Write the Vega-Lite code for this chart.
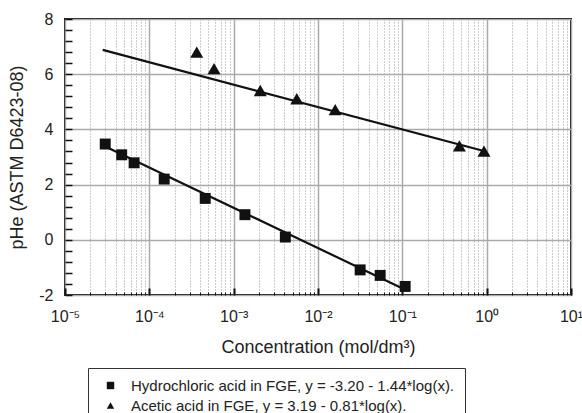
{
  "$schema": "https://vega.github.io/schema/vega-lite/v6.json",
  "width": 506,
  "height": 276,
  "autosize": {"type": "none"},
  "padding": {"left": 65, "top": 19, "right": 11, "bottom": 118},
  "background": "white",
  "config": {
    "view": {"stroke": "#111", "strokeWidth": 2},
    "font": "Liberation Sans",
    "axis": {"domain": false, "labelFont": "Liberation Sans", "titleFont": "Liberation Sans", "labelColor": "#222", "titleColor": "#222", "titleFontWeight": "normal"},
    "legend": {
      "orient": "none",
      "legendX": 23,
      "legendY": 349,
      "strokeColor": "#333",
      "padding": 10,
      "symbolOffset": 5,
      "labelOffset": 13,
      "labelFontSize": 15,
      "labelFont": "Liberation Sans",
      "labelColor": "#222",
      "labelLimit": 600,
      "symbolSize": 55,
      "symbolFillColor": "#111",
      "symbolStrokeColor": "#111",
      "rowPadding": 4
    }
  },
  "datasets": {
    "points": [
      {"series": "Hydrochloric acid in FGE, y = -3.20 - 1.44*log(x).", "acid": "HCl", "conc": 0.00003, "phe": 3.47},
      {"series": "Hydrochloric acid in FGE, y = -3.20 - 1.44*log(x).", "acid": "HCl", "conc": 0.000047, "phe": 3.08},
      {"series": "Hydrochloric acid in FGE, y = -3.20 - 1.44*log(x).", "acid": "HCl", "conc": 0.000066, "phe": 2.79},
      {"series": "Hydrochloric acid in FGE, y = -3.20 - 1.44*log(x).", "acid": "HCl", "conc": 0.00015, "phe": 2.2},
      {"series": "Hydrochloric acid in FGE, y = -3.20 - 1.44*log(x).", "acid": "HCl", "conc": 0.00046, "phe": 1.5},
      {"series": "Hydrochloric acid in FGE, y = -3.20 - 1.44*log(x).", "acid": "HCl", "conc": 0.00136, "phe": 0.91},
      {"series": "Hydrochloric acid in FGE, y = -3.20 - 1.44*log(x).", "acid": "HCl", "conc": 0.0041, "phe": 0.1},
      {"series": "Hydrochloric acid in FGE, y = -3.20 - 1.44*log(x).", "acid": "HCl", "conc": 0.0316, "phe": -1.09},
      {"series": "Hydrochloric acid in FGE, y = -3.20 - 1.44*log(x).", "acid": "HCl", "conc": 0.0546, "phe": -1.29},
      {"series": "Hydrochloric acid in FGE, y = -3.20 - 1.44*log(x).", "acid": "HCl", "conc": 0.108, "phe": -1.69},
      {"series": "Acetic acid in FGE, y = 3.19 - 0.81*log(x).", "acid": "Acetic", "conc": 0.000365, "phe": 6.8},
      {"series": "Acetic acid in FGE, y = 3.19 - 0.81*log(x).", "acid": "Acetic", "conc": 0.000585, "phe": 6.2},
      {"series": "Acetic acid in FGE, y = 3.19 - 0.81*log(x).", "acid": "Acetic", "conc": 0.00207, "phe": 5.41},
      {"series": "Acetic acid in FGE, y = 3.19 - 0.81*log(x).", "acid": "Acetic", "conc": 0.0056, "phe": 5.11},
      {"series": "Acetic acid in FGE, y = 3.19 - 0.81*log(x).", "acid": "Acetic", "conc": 0.016, "phe": 4.72},
      {"series": "Acetic acid in FGE, y = 3.19 - 0.81*log(x).", "acid": "Acetic", "conc": 0.475, "phe": 3.4},
      {"series": "Acetic acid in FGE, y = 3.19 - 0.81*log(x).", "acid": "Acetic", "conc": 0.93, "phe": 3.21}
    ],
    "fits": [
      {"series": "HCl fit", "conc": 0.00003, "phe": 3.38},
      {"series": "HCl fit", "conc": 0.11, "phe": -1.82},
      {"series": "Acetic fit", "conc": 0.000028, "phe": 6.88},
      {"series": "Acetic fit", "conc": 0.95, "phe": 3.21}
    ]
  },
  "layer": [
    {
      "data": {"name": "fits"},
      "mark": {"type": "line", "color": "#111", "strokeWidth": 2.2},
      "encoding": {
        "x": {
          "field": "conc", "type": "quantitative",
          "scale": {"type": "log", "domain": [0.00001, 10], "nice": false},
          "axis": {
            "title": "Concentration (mol/dm³)",
            "titleFontSize": 18,
            "titlePadding": 10,
            "labelFontSize": 16,
            "labelPadding": 20,
            "labelOverlap": false,
            "labelFlush": false,
            "labelBound": false,
            "tickCount": 500,
            "values": [0.00001,0.00002,0.00003,0.00004,0.00005,0.00006,0.00007,0.00008,0.00009,
                       0.0001,0.0002,0.0003,0.0004,0.0005,0.0006,0.0007,0.0008,0.0009,
                       0.001,0.002,0.003,0.004,0.005,0.006,0.007,0.008,0.009,
                       0.01,0.02,0.03,0.04,0.05,0.06,0.07,0.08,0.09,
                       0.1,0.2,0.3,0.4,0.5,0.6,0.7,0.8,0.9,
                       1,2,3,4,5,6,7,8,9,10],
            "labelExpr": "abs(log(datum.value)/LN10 - round(log(datum.value)/LN10)) < 0.01 ? '10' + ['⁻⁵','⁻⁴','⁻³','⁻²','⁻¹','⁰','¹'][round(log(datum.value)/LN10)+5] : ''",
            "grid": true,
            "gridColor": {"condition": {"test": "abs(log(datum.value)/LN10 - round(log(datum.value)/LN10)) < 0.01", "value": "#aaaaaa"}, "value": "#9a9a9a"},
            "gridDash": {"condition": {"test": "abs(log(datum.value)/LN10 - round(log(datum.value)/LN10)) < 0.01", "value": []}, "value": [1, 2]},
            "gridWidth": {"condition": {"test": "abs(log(datum.value)/LN10 - round(log(datum.value)/LN10)) < 0.01", "value": 1.5}, "value": 1},
            "ticks": true,
            "tickColor": "#111",
            "tickSize": {"condition": {"test": "abs(log(datum.value)/LN10 - round(log(datum.value)/LN10)) < 0.01", "value": -7}, "value": -3},
            "tickWidth": {"condition": {"test": "abs(log(datum.value)/LN10 - round(log(datum.value)/LN10)) < 0.01", "value": 2}, "value": 1}
          }
        },
        "y": {
          "field": "phe", "type": "quantitative",
          "scale": {"domain": [-2, 8], "nice": false, "zero": false},
          "axis": {
            "title": "pHe (ASTM D6423-08)",
            "titleFontSize": 18,
            "titlePadding": 12,
            "labelFontSize": 16,
            "labelPadding": 19,
            "labelOverlap": false,
            "labelBound": false,
            "labelFlush": false,
            "tickCount": 500,
            "values": [-2,-1.6,-1.2,-0.8,-0.4,0,0.4,0.8,1.2,1.6,2,2.4,2.8,3.2,3.6,4,4.4,4.8,5.2,5.6,6,6.4,6.8,7.2,7.6,8],
            "labelExpr": "datum.value % 2 == 0 ? '' + datum.value : ''",
            "grid": true,
            "gridColor": "#aaaaaa",
            "gridWidth": 1.5,
            "gridOpacity": {"condition": {"test": "datum.value % 2 == 0", "value": 1}, "value": 0},
            "ticks": true,
            "tickColor": "#111",
            "tickSize": -7,
            "tickWidth": 1.5
          }
        },
        "detail": {"field": "series"}
      }
    },
    {
      "data": {"name": "points"},
      "transform": [{"filter": "datum.acid == 'HCl'"}],
      "mark": {"type": "point", "filled": true, "color": "#111", "opacity": 1, "size": 120},
      "encoding": {
        "x": {"field": "conc", "type": "quantitative"},
        "y": {"field": "phe", "type": "quantitative"},
        "shape": {
          "field": "series", "type": "nominal",
          "scale": {
            "domain": ["Hydrochloric acid in FGE, y = -3.20 - 1.44*log(x).", "Acetic acid in FGE, y = 3.19 - 0.81*log(x)."],
            "range": ["square", "triangle-up"]
          },
          "legend": {"title": null}
        }
      }
    },
    {
      "data": {"name": "points"},
      "transform": [{"filter": "datum.acid == 'Acetic'"}],
      "mark": {"type": "point", "filled": true, "color": "#111", "opacity": 1, "size": 170},
      "encoding": {
        "x": {"field": "conc", "type": "quantitative"},
        "y": {"field": "phe", "type": "quantitative"},
        "shape": {
          "field": "series", "type": "nominal",
          "legend": {"title": null}
        }
      }
    }
  ]
}
